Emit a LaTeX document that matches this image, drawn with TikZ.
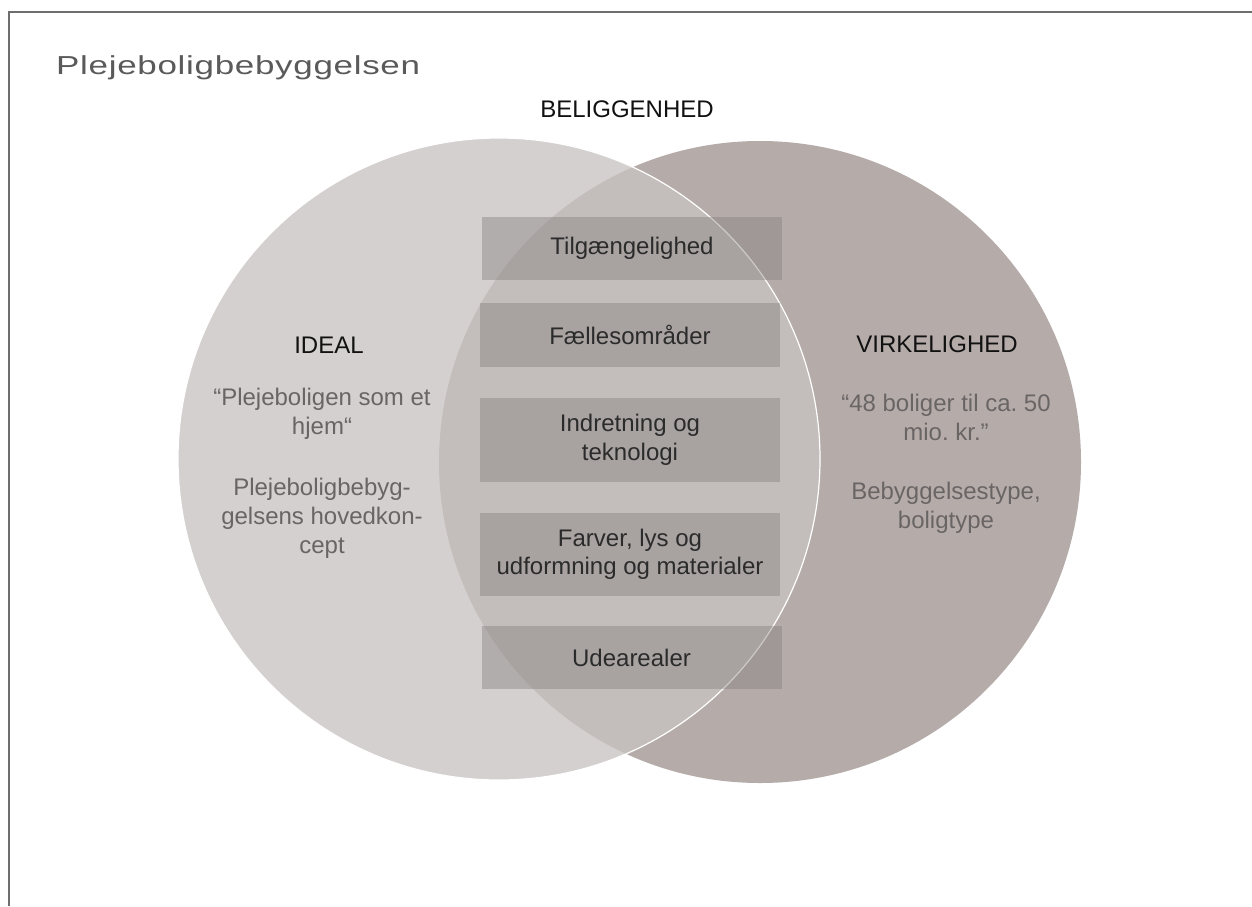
\documentclass[tikz,border=0pt]{standalone}
\usepackage{fontspec}
\usepackage{graphicx}
\setmainfont{Liberation Sans}
\frenchspacing
\definecolor{framegray}{HTML}{6E6E6E}
\definecolor{titlegray}{HTML}{5A5A5A}
\definecolor{idealfill}{HTML}{C8C3C1}
\definecolor{realfill}{HTML}{B5ACAA}
\definecolor{boxfill}{HTML}{807A7A}
\definecolor{headtext}{HTML}{111111}
\definecolor{softtext}{HTML}{6A6565}
\definecolor{boxtext}{HTML}{2B2B2B}
\tikzset{
  framest/.style={draw=framegray, line width=2pt},
  circst/.style={circle, minimum size=642pt, inner sep=0pt},
  areabox/.style={fill=boxfill, fill opacity=0.4, text opacity=1, text=boxtext,
    inner sep=0pt, minimum width=300pt, align=center,
    font=\fontsize{24}{28.5}\selectfont},
  head/.style={text=headtext, inner sep=0pt, anchor=base, font=\fontsize{24}{28.5}\selectfont},
  soft/.style={text=softtext, inner sep=0pt, align=center, font=\fontsize{24}{29}\selectfont},
}
\begin{document}
\frenchspacing
\begin{tikzpicture}[x=1pt,y=-1pt]
\useasboundingbox (0,0) rectangle (1252,906);
\fill[white] (0,0) rectangle (1252,906);
% frame
\draw[framest] (9,906) -- (9,11.5) -- (1252,11.5);
% title
\node[anchor=base west, inner sep=0pt, text=titlegray, font=\fontsize{26}{30}\selectfont] (title) at (56,74)
  {\resizebox{364pt}{\height}{\addfontfeature{LetterSpace=2}Plejeboligbebyggelsen}};
% circles
\node[circst, fill=realfill] (real) at (760,462) {};
\node[circst, fill=idealfill, fill opacity=0.77, draw=white, line width=1.2pt] (ideal) at (499,459) {};
% heading
\node[head] (loc) at (627,117) {BELIGGENHED};
\node[head] (idl) at (329,353) {IDEAL};
\node[head] (vrk) at (937,352) {VIRKELIGHED};
% soft texts
\node[soft] (q1) at (322,414) {“Plejeboligen som et\\hjem“};
\node[soft] (c1) at (322,518) {Plejeboligbebyg-\\gelsens hovedkon-\\cept};
\node[soft] (q2) at (946,417) {“48 boliger til ca. 50\\mio. kr.”};
\node[soft] (c2) at (946,508) {Bebyggelsestype,\\boligtype};
% boxes
\node[areabox, minimum height=63pt] (b1) at (632,248.5) {Tilgængelighed};
\node[areabox, minimum height=64pt] (b2) at (630,335) {Fællesområder};
\node[areabox, minimum height=84pt] (b3) at (630,440) {Indretning og\\teknologi};
\node[areabox, minimum height=83pt] (b4) at (630,554.5) {Farver, lys og\\udformning og materialer};
\node[areabox, minimum height=63pt] (b5) at (631.5,657.5) {Udearealer};
\end{tikzpicture}
\end{document}
